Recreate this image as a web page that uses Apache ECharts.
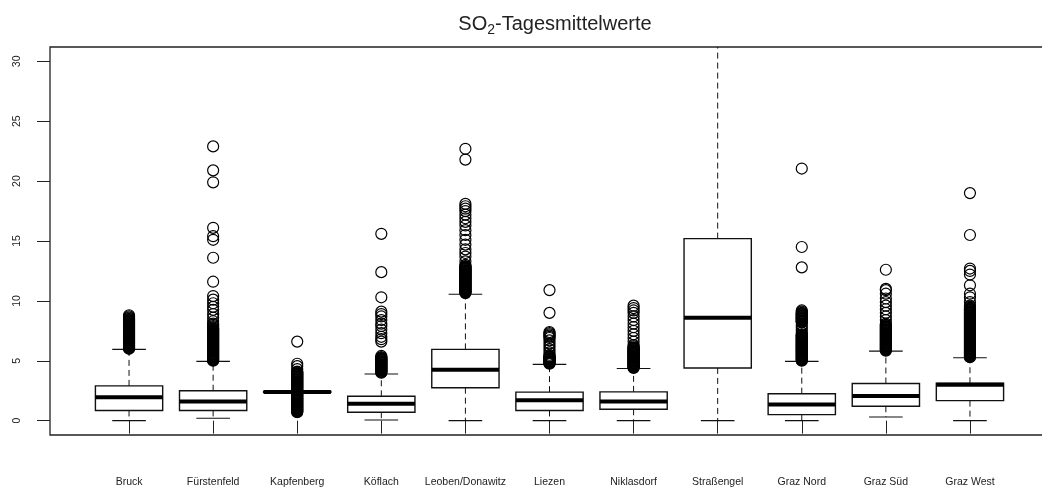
<!DOCTYPE html>
<html>
<head>
<meta charset="utf-8">
<script src="https://cdn.jsdelivr.net/npm/echarts@6/dist/echarts.min.js"></script>
<style>
  html, body { margin: 0; padding: 0; background: #fff; overflow: hidden; }
  /* the plot frame runs a few pixels past the right edge of the page */
  #chart { width: 1056px; height: 490px; }
</style>
</head>
<body>
<div id="chart"></div>
<script>
// Measuring stations (x categories)
const stations = ['Bruck', 'Fürstenfeld', 'Kapfenberg', 'Köflach', 'Leoben/Donawitz', 'Liezen',
  'Niklasdorf', 'Straßengel', 'Graz Nord', 'Graz Süd', 'Graz West'];

// Five-number summaries of the daily SO2 means (µg/m³)
const whiskerLow  = [0.0, 0.2, 2.36, 0.05, 0.0, 0.0, 0.0, 0.0, 0.0, 0.3, 0.0];
const q1          = [0.85, 0.85, 2.37, 0.7, 2.75, 0.85, 0.95, 4.4, 0.5, 1.2, 1.67];
const median      = [1.95, 1.6, 2.4, 1.4, 4.25, 1.7, 1.6, 8.6, 1.35, 2.05, 3.0];
const q3          = [2.9, 2.5, 2.43, 2.03, 5.95, 2.38, 2.4, 15.2, 2.25, 3.1, 3.12];
const whiskerHigh = [5.95, 4.95, 2.44, 3.9, 10.55, 4.7, 4.35, 31.4, 4.95, 5.8, 5.25];

// Outlying daily means per station
const outBruck = [6.0, 6.05, 6.1, 6.15, 6.2, 6.25, 6.3, 6.35, 6.4, 6.45, 6.5, 6.55, 6.6, 6.65, 6.7,
  6.75, 6.8, 6.85, 6.9, 6.95, 7.0, 7.05, 7.1, 7.15, 7.2, 7.25, 7.3, 7.35, 7.4, 7.45, 7.5, 7.55, 7.6,
  7.65, 7.7, 7.75, 7.8, 7.85, 7.9, 7.95, 8.0, 8.05, 8.1, 8.15, 8.2, 8.25, 8.3, 8.35, 8.4, 8.45, 8.5,
  8.6, 8.7, 8.8];
const outFuerstenfeld = [5.0, 5.05, 5.1, 5.15, 5.2, 5.25, 5.3, 5.35, 5.4, 5.45, 5.5, 5.55, 5.6, 5.65,
  5.7, 5.75, 5.8, 5.85, 5.9, 5.95, 6.0, 6.05, 6.1, 6.15, 6.2, 6.25, 6.3, 6.35, 6.4, 6.45, 6.5, 6.55,
  6.6, 6.65, 6.7, 6.75, 6.8, 6.85, 6.9, 6.95, 7.0, 7.05, 7.1, 7.15, 7.2, 7.25, 7.3, 7.35, 7.4, 7.45,
  7.5, 7.55, 7.6, 7.65, 7.7, 7.8, 7.9, 8.0, 8.1, 8.3, 8.6, 8.9, 9.25, 9.5, 9.8, 10.1, 10.4, 11.6,
  13.6, 15.1, 15.4, 16.1, 19.9, 20.9, 22.9];
const outKapfenberg = [0.7, 0.75, 0.8, 0.85, 0.9, 0.95, 1.0, 1.05, 1.1, 1.15, 1.2, 1.25, 1.3, 1.35,
  1.4, 1.45, 1.5, 1.55, 1.6, 1.65, 1.7, 1.75, 1.8, 1.85, 1.9, 1.95, 2.0, 2.05, 2.1, 2.15, 2.2, 2.25,
  2.3, 2.5, 2.55, 2.6, 2.65, 2.7, 2.75, 2.8, 2.85, 2.9, 2.95, 3.0, 3.05, 3.1, 3.15, 3.2, 3.25, 3.3,
  3.35, 3.4, 3.45, 3.5, 3.55, 3.6, 3.65, 3.7, 3.75, 3.8, 3.85, 3.9, 3.95, 4.0, 4.05, 4.1, 4.3, 4.55,
  4.75, 6.6];
const outKoeflach = [4.0, 4.05, 4.1, 4.15, 4.2, 4.25, 4.3, 4.35, 4.4, 4.45, 4.5, 4.55, 4.6, 4.65,
  4.7, 4.75, 4.8, 4.85, 4.9, 4.95, 5.0, 5.05, 5.1, 5.15, 5.2, 5.25, 5.3, 5.4, 6.6, 6.8, 7.0, 7.3,
  7.6, 7.9, 8.1, 8.4, 8.7, 8.9, 9.1, 10.3, 12.4, 15.6];
const outLeoben = [10.65, 10.7, 10.75, 10.8, 10.85, 10.9, 10.95, 11.0, 11.05, 11.1, 11.15, 11.2,
  11.25, 11.3, 11.35, 11.4, 11.45, 11.5, 11.55, 11.6, 11.65, 11.7, 11.75, 11.8, 11.85, 11.9, 11.95,
  12.0, 12.05, 12.1, 12.15, 12.2, 12.25, 12.3, 12.35, 12.4, 12.45, 12.5, 12.55, 12.6, 12.65, 12.7,
  12.75, 12.8, 12.85, 12.9, 13.0, 13.3, 13.7, 14.0, 14.3, 14.7, 15.1, 15.5, 15.9, 16.3, 16.6, 16.9,
  17.2, 17.5, 17.7, 17.9, 18.1, 21.8, 22.7];
const outLiezen = [4.75, 4.8, 4.85, 4.9, 4.95, 5.0, 5.05, 5.1, 5.15, 5.2, 5.25, 5.3, 5.35, 5.4, 5.5,
  5.7, 5.95, 6.2, 6.45, 6.7, 6.9, 7.0, 7.1, 7.2, 7.3, 7.4, 9.0, 10.9];
const outNiklasdorf = [4.4, 4.45, 4.5, 4.55, 4.6, 4.65, 4.7, 4.75, 4.8, 4.85, 4.9, 4.95, 5.0, 5.05,
  5.1, 5.15, 5.2, 5.25, 5.3, 5.35, 5.4, 5.45, 5.5, 5.55, 5.6, 5.65, 5.7, 5.75, 5.8, 5.85, 5.9, 5.95,
  6.0, 6.05, 6.1, 6.2, 6.3, 6.6, 6.9, 7.2, 7.5, 7.8, 8.1, 8.4, 8.7, 9.0, 9.2, 9.4, 9.6];
const outStrassengel = [];
const outGrazNord = [5.0, 5.05, 5.1, 5.15, 5.2, 5.25, 5.3, 5.35, 5.4, 5.45, 5.5, 5.55, 5.6, 5.65,
  5.7, 5.75, 5.8, 5.85, 5.9, 5.95, 6.0, 6.05, 6.1, 6.15, 6.2, 6.25, 6.3, 6.35, 6.4, 6.45, 6.5, 6.55,
  6.6, 6.65, 6.7, 6.75, 6.8, 6.85, 6.9, 6.95, 7.0, 7.05, 7.1, 7.15, 7.2, 7.35, 7.55, 7.75, 7.95, 8.2,
  8.25, 8.3, 8.35, 8.4, 8.45, 8.5, 8.55, 8.6, 8.65, 8.7, 8.75, 8.8, 8.85, 8.9, 8.95, 9.0, 9.1, 9.2,
  12.8, 14.5, 21.05];
const outGrazSued = [5.85, 5.9, 5.95, 6.0, 6.05, 6.1, 6.15, 6.2, 6.25, 6.3, 6.35, 6.4, 6.45, 6.5,
  6.55, 6.6, 6.65, 6.7, 6.75, 6.8, 6.85, 6.9, 6.95, 7.0, 7.05, 7.1, 7.15, 7.2, 7.25, 7.3, 7.35, 7.4,
  7.45, 7.5, 7.55, 7.6, 7.65, 7.7, 7.75, 7.8, 7.85, 7.9, 7.95, 8.0, 8.1, 8.4, 8.7, 9.0, 9.3, 9.6,
  9.9, 10.2, 10.6, 10.9, 11.0, 12.6];
const outGrazWest = [5.3, 5.35, 5.4, 5.45, 5.5, 5.55, 5.6, 5.65, 5.7, 5.75, 5.8, 5.85, 5.9, 5.95,
  6.0, 6.05, 6.1, 6.15, 6.2, 6.25, 6.3, 6.35, 6.4, 6.45, 6.5, 6.55, 6.6, 6.65, 6.7, 6.75, 6.8, 6.85,
  6.9, 6.95, 7.0, 7.05, 7.1, 7.15, 7.2, 7.25, 7.3, 7.35, 7.4, 7.45, 7.5, 7.55, 7.6, 7.65, 7.7, 7.75,
  7.8, 7.85, 7.9, 7.95, 8.0, 8.05, 8.1, 8.15, 8.2, 8.25, 8.3, 8.35, 8.4, 8.45, 8.5, 8.55, 8.6, 8.65,
  8.7, 8.75, 8.8, 8.85, 8.9, 8.95, 9.0, 9.05, 9.1, 9.15, 9.2, 9.25, 9.3, 9.35, 9.4, 9.5, 9.6, 9.9,
  10.3, 10.6, 11.3, 12.2, 12.5, 12.7, 15.5, 19.0];
const outliers = [outBruck, outFuerstenfeld, outKapfenberg, outKoeflach, outLeoben, outLiezen,
  outNiklasdorf, outStrassengel, outGrazNord, outGrazSued, outGrazWest];

// Axis ticks
const yTicks = [0, 5, 10, 15, 20, 25, 30];
const xTicks = stations.map((_, i) => i + 1);

const boxData = stations.map((_, i) =>
  [i + 1, whiskerLow[i], q1[i], median[i], q3[i], whiskerHigh[i]]);
const outlierData = [];
outliers.forEach((list, i) => list.forEach(v => outlierData.push([i + 1, v])));

const INK = '#111';
const FONT = 'Liberation Sans, Arial, sans-serif';

function renderBox(params, api) {
  const x = api.value(0);
  const lo = api.value(1), b1 = api.value(2), md = api.value(3), b3 = api.value(4), hi = api.value(5);
  const halfBox = 0.4, halfCap = 0.2;
  const p = (xv, yv) => api.coord([xv, yv]);
  const dash = { stroke: INK, lineWidth: 1, lineDash: [6, 4] };
  const solid = { stroke: INK, lineWidth: 1.1 };
  const line = (a, b, style) => ({
    type: 'line',
    shape: { x1: a[0], y1: a[1], x2: b[0], y2: b[1] },
    style: style
  });
  const tl = p(x - halfBox, b3), br = p(x + halfBox, b1);
  return {
    type: 'group',
    children: [
      line(p(x, b3), p(x, hi), dash),
      line(p(x, b1), p(x, lo), dash),
      line(p(x - halfCap, hi), p(x + halfCap, hi), solid),
      line(p(x - halfCap, lo), p(x + halfCap, lo), solid),
      {
        type: 'rect',
        shape: { x: tl[0], y: tl[1], width: br[0] - tl[0], height: br[1] - tl[1] },
        style: { fill: 'none', stroke: INK, lineWidth: 1.4 }
      },
      line(p(x - halfBox, md), p(x + halfBox, md), { stroke: '#000', lineWidth: 4 })
    ]
  };
}

const chart = echarts.init(document.getElementById('chart'), null, { renderer: 'canvas' });
chart.setOption({
  animation: false,
  backgroundColor: '#fff',
  title: {
    text: '{a|SO}{s|2}{a|-Tagesmittelwerte}',
    left: 550,
    top: 6,
    textAlign: 'center',
    textStyle: {
      fontWeight: 'normal',
      rich: {
        a: { fontSize: 20, fontFamily: FONT, fontWeight: 'normal', color: '#222', lineHeight: 26 },
        s: { fontSize: 14, fontFamily: FONT, fontWeight: 'normal', color: '#222', lineHeight: 14,
             verticalAlign: 'bottom' }
      }
    }
  },
  grid: {
    left: 50, top: 47, width: 999, height: 388,
    show: true, borderColor: '#222', borderWidth: 1.3, backgroundColor: 'transparent',
    containLabel: false
  },
  xAxis: {
    type: 'value', min: 0.06, max: 11.94,
    axisLine: { show: false },
    splitLine: { show: false },
    axisTick: { show: true, customValues: xTicks, length: 13, lineStyle: { color: '#222', width: 1 } },
    axisLabel: {
      customValues: xTicks, margin: 42, fontSize: 10.5, fontFamily: FONT, color: '#222',
      formatter: v => stations[Math.round(v) - 1] || ''
    }
  },
  yAxis: {
    type: 'value', min: -1.2, max: 31.2,
    axisLine: { show: false },
    splitLine: { show: false },
    axisTick: { show: true, customValues: yTicks, length: 13, lineStyle: { color: '#222', width: 1 } },
    axisLabel: {
      customValues: yTicks, rotate: 90, margin: 27, align: 'center', verticalAlign: 'bottom',
      fontSize: 10.5, fontFamily: FONT, color: '#222'
    }
  },
  series: [
    {
      type: 'custom',
      clip: true,
      renderItem: renderBox,
      encode: { x: 0, y: [1, 2, 3, 4, 5] },
      data: boxData,
      silent: true
    },
    {
      type: 'scatter',
      symbol: 'circle',
      symbolSize: 11,
      itemStyle: { color: 'rgba(0,0,0,0)', borderColor: '#000', borderWidth: 1.2, opacity: 1 },
      data: outlierData,
      silent: true,
      clip: true
    }
  ]
});
</script>
</body>
</html>
